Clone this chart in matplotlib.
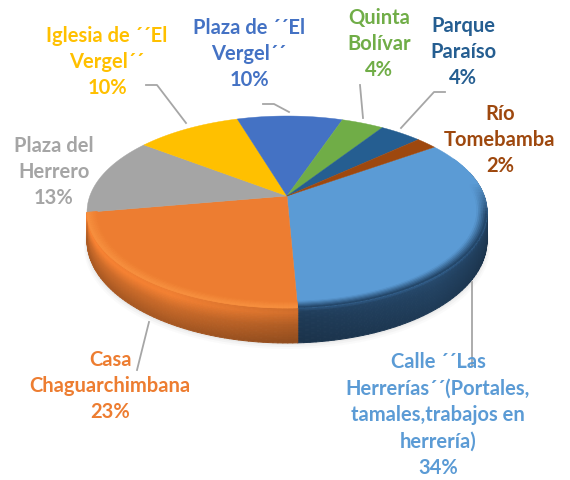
import numpy as np
import matplotlib
matplotlib.use("Agg")
import matplotlib.pyplot as plt
from matplotlib.collections import PolyCollection
from matplotlib.colors import to_rgb

# data, clockwise from the first slice
labels = ["Calle ´´Las\nHerrerías´´(Portales,\ntamales,trabajos en\nherrería)",
          "Casa\nChaguarchimbana",
          "Plaza del\nHerrero",
          "Iglesia de ´´El\nVergel´´",
          "Plaza de ´´El\nVergel´´",
          "Quinta\nBolívar",
          "Parque\nParaíso",
          "Río\nTomebamba"]
values = [34, 23, 13, 10, 10, 4, 4, 2]
colors = ["#5b9bd5", "#ed7d31", "#a5a5a5", "#ffc000", "#4472c4", "#70ad47", "#255e91", "#9e480e"]

plt.rcParams["font.family"] = ["Lato", "DejaVu Sans"]

# pie geometry in pixels
cx, cy, rx, ry = 287, 212, 200, 96
k = 0.167  # perspective, moves the apex away from the ellipse center
start = 35


def project(r, deg):
    a = np.radians(deg)
    x = r * np.cos(a)
    y = r * np.sin(a)
    d = 1 + k * y
    return cx + rx * x * np.sqrt(1 - k * k) / d, cy - ry * (y + k) / d


def depth(deg):
    # wall is taller at the front
    return 27 + 8 * np.clip(-np.sin(np.radians(deg)), 0, 1)


def wall_color(i, deg, t):
    base = np.array(to_rgb(colors[i]))
    if i == 1:
        f = np.interp(t, [0, 0.15, 0.5, 1], [1.03, 1.06, 0.88, 0.72])
        f = f * np.interp(deg, [-170, -120, -88], [1.0, 0.97, 0.84])
        return np.clip(base * f, 0, 1)
    base = np.array(to_rgb("#2a5076"))
    f = np.interp(t, [0, 0.12, 0.35, 1], [1.2, 0.85, 0.78, 0.68])
    f = f * np.interp(deg, [-88, -50, -20, 10], [0.92, 1.08, 0.95, 0.9])
    return np.clip(base * f, 0, 1)


fig = plt.figure(figsize=(5.7, 4.8), dpi=100)
ax = fig.add_axes([0, 0, 1, 1])
ax.set_xlim(0, 570)
ax.set_ylim(480, 0)
ax.axis("off")

# soft shadow under the pie
full = np.linspace(0, 360, 240)
for grow, alpha in zip([6, 4, 2], [0.03, 0.05, 0.07]):
    sx, sy = project(1, full)
    ax.fill(cx + (sx - cx) * (1 + grow / 400), sy + depth(full) + grow,
            color="#7f7f7f", alpha=alpha, lw=0, zorder=1)

# slice limits
ends = start - np.cumsum(values) * 3.6
starts = np.r_[start, ends[:-1]]

# side wall, blue and orange are the only ones seen from the front
quads = []
quad_colors = []
for i in [0, 1]:
    th = np.linspace(min(starts[i], 15), max(ends[i], -195), 70)
    ts = np.linspace(0, 1, 22)
    for a0, a1 in zip(th[:-1], th[1:]):
        x0, y0 = project(1, a0)
        x1, y1 = project(1, a1)
        d0, d1 = depth(a0), depth(a1)
        for t0, t1 in zip(ts[:-1], ts[1:]):
            quads.append([(x0, y0 + t0 * d0), (x1, y1 + t0 * d1), (x1, y1 + t1 * d1), (x0, y0 + t1 * d0)])
            quad_colors.append(wall_color(i, (a0 + a1) / 2, (t0 + t1) / 2))
ax.add_collection(PolyCollection(quads, facecolors=quad_colors, edgecolors=quad_colors, linewidths=0.7, zorder=2))

# top face
for i in range(len(values)):
    th = np.linspace(starts[i], ends[i], 80)
    x, y = project(1, th)
    apex_x, apex_y = project(0, 0)
    ax.fill(np.r_[apex_x, x], np.r_[apex_y, y], color=colors[i], lw=0.3, zorder=3)

# rounded edge of the face, fades into the wall
quads = []
quad_colors = []
rs = np.linspace(0.95, 1, 7)
for i in [0, 1]:
    tint = "#1f3f60" if i == 0 else "#f8913f"
    th = np.linspace(min(starts[i], 25), max(ends[i], -195), 70)
    for a0, a1 in zip(th[:-1], th[1:]):
        for r0, r1 in zip(rs[:-1], rs[1:]):
            p = [project(r0, a0), project(r0, a1), project(r1, a1), project(r1, a0)]
            quads.append(p)
            w = ((r0 + r1) / 2 - 0.95) / 0.05
            fade = np.clip(-np.sin(np.radians((a0 + a1) / 2)) * 3 + 0.4, 0, 1)
            c = np.array(to_rgb(colors[i])) * (1 - w * fade) + np.array(to_rgb(tint)) * w * fade
            quad_colors.append(c)
ax.add_collection(PolyCollection(quads, facecolors=quad_colors, edgecolors=quad_colors, linewidths=0.5, zorder=4))

# leader lines
leaders = [[(472, 282), (472, 366)],
           [(149, 322), (137, 370)],
           [(146, 85), (157, 85), (186, 123)],
           [(263, 104), (274, 104), (289, 112)],
           [(360, 85), (363, 118)],
           [(445, 92), (434, 92), (401, 128)]]
for pts in leaders:
    ax.plot(*zip(*pts), color="#a6a6a6", lw=1.3, zorder=5)

# label centers in pixels
label_x = [438, 110, 54, 107, 249, 379, 463, 500]
label_y = [415, 386, 172, 62, 54, 44, 52, 140]
for i in range(len(values)):
    ax.text(label_x[i], label_y[i], f"{labels[i]}\n{values[i]}%", color=colors[i],
            ha="center", va="center", ma="center", fontsize=14.5, fontweight="bold",
            linespacing=1.4, zorder=6)

fig.savefig("out.png", dpi=100)
